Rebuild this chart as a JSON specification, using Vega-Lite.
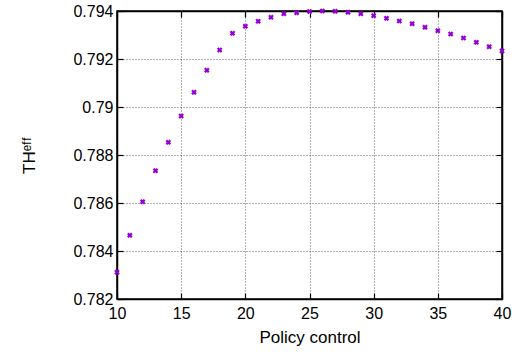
{
  "$schema": "https://vega.github.io/schema/vega-lite/v6.json",
  "width": 385,
  "height": 288,
  "autosize": {"type": "none"},
  "padding": {"left": 117, "top": 11, "right": 10, "bottom": 61},
  "background": "white",
  "config": {
    "view": {"stroke": "#000", "strokeWidth": 1.5},
    "font": "Liberation Sans",
    "axis": {
      "labelFont": "Liberation Sans",
      "titleFont": "Liberation Sans",
      "labelFontSize": 16,
      "titleFontSize": 16,
      "titleFontWeight": "normal",
      "labelColor": "#000",
      "titleColor": "#000",
      "domainColor": "#000",
      "domainWidth": 1.5,
      "tickColor": "#000",
      "tickSize": -6,
      "tickWidth": 1.2,
      "gridColor": "#000",
      "gridOpacity": 0.6,
      "gridDash": [1, 2],
      "gridWidth": 1,
      "labelFlush": false,
      "labelOverlap": false,
      "labelBound": false
    }
  },
  "data": {
    "values": [
      {"x": 10, "y": 0.783113},
      {"x": 11, "y": 0.784654},
      {"x": 12, "y": 0.786054},
      {"x": 13, "y": 0.787346},
      {"x": 14, "y": 0.788529},
      {"x": 15, "y": 0.789625},
      {"x": 16, "y": 0.790613},
      {"x": 17, "y": 0.791529},
      {"x": 18, "y": 0.792375},
      {"x": 19, "y": 0.793071},
      {"x": 20, "y": 0.793363},
      {"x": 21, "y": 0.793571},
      {"x": 22, "y": 0.793738},
      {"x": 23, "y": 0.793888},
      {"x": 24, "y": 0.79393},
      {"x": 25, "y": 0.79398},
      {"x": 26, "y": 0.794},
      {"x": 27, "y": 0.793988},
      {"x": 28, "y": 0.793946},
      {"x": 29, "y": 0.793888},
      {"x": 30, "y": 0.793804},
      {"x": 31, "y": 0.793696},
      {"x": 32, "y": 0.793583},
      {"x": 33, "y": 0.793471},
      {"x": 34, "y": 0.793321},
      {"x": 35, "y": 0.793179},
      {"x": 36, "y": 0.793042},
      {"x": 37, "y": 0.792875},
      {"x": 38, "y": 0.792696},
      {"x": 39, "y": 0.792513},
      {"x": 40, "y": 0.792333}
    ]
  },
  "layer": [
    {
      "mark": {"type": "point", "shape": "cross", "angle": 45, "filled": true, "color": "#9400d3", "opacity": 1, "size": 32, "clip": false},
      "encoding": {
        "x": {
          "field": "x",
          "type": "quantitative",
          "scale": {"domain": [10, 40], "nice": false, "zero": false},
          "axis": {"values": [10, 15, 20, 25, 30, 35, 40], "title": "Policy control", "titleFontSize": 17, "labelPadding": 12, "titlePadding": 8}
        },
        "y": {
          "field": "y",
          "type": "quantitative",
          "scale": {"domain": [0.782, 0.794], "nice": false, "zero": false},
          "axis": {"values": [0.782, 0.784, 0.786, 0.788, 0.79, 0.792, 0.794], "format": "~g", "title": "THᵉᶠᶠ", "titleFontSize": 17, "labelPadding": 10, "titlePadding": 34}
        }
      }
    },
    {
      "mark": {"type": "point", "opacity": 0},
      "encoding": {
        "x": {
          "field": "x",
          "type": "quantitative",
          "scale": {"domain": [10, 40], "nice": false, "zero": false},
          "axis": {"orient": "top", "values": [10, 15, 20, 25, 30, 35, 40], "labels": false, "title": null, "grid": false}
        },
        "y": {
          "field": "y",
          "type": "quantitative",
          "scale": {"domain": [0.782, 0.794], "nice": false, "zero": false},
          "axis": {"orient": "right", "values": [0.782, 0.784, 0.786, 0.788, 0.79, 0.792, 0.794], "labels": false, "title": null, "grid": false}
        }
      }
    }
  ],
  "resolve": {"axis": {"x": "independent", "y": "independent"}}
}
